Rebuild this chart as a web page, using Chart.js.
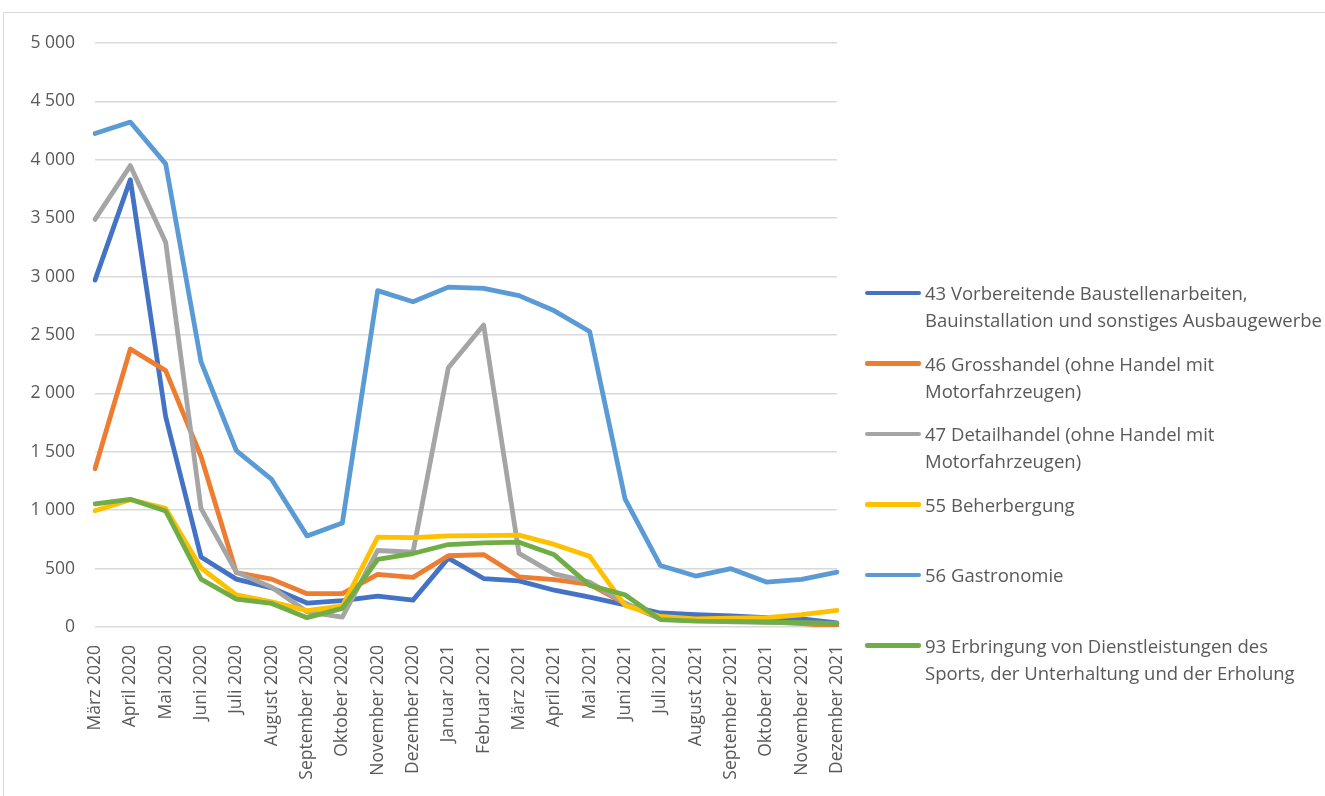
<!DOCTYPE html>
<html>
<head>
<meta charset="utf-8">
<script src="https://cdn.jsdelivr.net/npm/chart.js@4/dist/chart.umd.min.js"></script>
<style>
  html, body { margin: 0; padding: 0; background: #fff; }
  body { width: 1325px; height: 796px; position: relative; overflow: hidden; font-family: 'Open Sans', sans-serif; }
  .frame { position: absolute; left: 3px; top: 12px; width: 1340px; height: 800px; border: 1px solid #D9D9D9; }
  #chart { position: absolute; left: 0; top: 0; }
  #legend { position: absolute; left: 865px; top: 279px; }
  .leg-item { display: flex; align-items: flex-start; height: 70.6px; }
  .leg-line { width: 56px; height: 4.5px; border-radius: 2px; margin-top: 11.5px; margin-right: 4px; flex: none; }
  .leg-text { color: #595959; font-size: 18.5px; line-height: 27px; white-space: nowrap; }
</style>
</head>
<body>
<div class="frame"></div>
<canvas id="chart" width="1325" height="796"></canvas>
<div id="legend"></div>
<script>
const months = ['März 2020', 'April 2020', 'Mai 2020', 'Juni 2020', 'Juli 2020', 'August 2020',
  'September 2020', 'Oktober 2020', 'November 2020', 'Dezember 2020', 'Januar 2021', 'Februar 2021',
  'März 2021', 'April 2021', 'Mai 2021', 'Juni 2021', 'Juli 2021', 'August 2021', 'September 2021',
  'Oktober 2021', 'November 2021', 'Dezember 2021'];

const bau43      = [2970, 3830, 1800, 600, 410, 335, 205, 225, 265, 230, 590, 415, 395, 315, 255, 190, 120, 105, 95, 80, 70, 35];
const gross46    = [1355, 2380, 2195, 1460, 465, 410, 285, 285, 450, 425, 610, 620, 430, 405, 365, 200, 70, 60, 50, 45, 30, 5];
const detail47   = [3490, 3950, 3295, 1015, 470, 340, 130, 85, 655, 640, 2220, 2585, 630, 455, 385, 205, 70, 55, 45, 40, 35, 30];
const beherb55   = [995, 1090, 1015, 505, 275, 215, 140, 180, 770, 765, 780, 782, 786, 707, 605, 185, 90, 70, 75, 80, 105, 142];
const gastro56   = [4225, 4323, 3965, 2272, 1510, 1263, 780, 890, 2880, 2785, 2910, 2900, 2837, 2707, 2530, 1097, 527, 436, 499, 385, 407, 470];
const sport93    = [1055, 1093, 993, 410, 239, 202, 80, 159, 578, 629, 706, 721, 726, 618, 356, 276, 63, 51, 48, 43, 37, 28];

const seriesLabels = [
  ['43 Vorbereitende Baustellenarbeiten,', 'Bauinstallation und sonstiges Ausbaugewerbe'],
  ['46 Grosshandel (ohne Handel mit', 'Motorfahrzeugen)'],
  ['47 Detailhandel (ohne Handel mit', 'Motorfahrzeugen)'],
  ['55 Beherbergung'],
  ['56 Gastronomie'],
  ['93 Erbringung von Dienstleistungen des', 'Sports, der Unterhaltung und der Erholung']
];
const seriesData = [bau43, gross46, detail47, beherb55, gastro56, sport93];
const colors = ['#4472C4', '#ED7D31', '#A5A5A5', '#FFC000', '#5B9BD5', '#70AD47'];

const yTicks = [0, 500, 1000, 1500, 2000, 2500, 3000, 3500, 4000, 4500, 5000];

function fmtNum(v) {
  return String(v).replace(/\B(?=(\d{3})+(?!\d))/g, ' ');
}

const chart = new Chart(document.getElementById('chart'), {
  type: 'line',
  data: {
    labels: months,
    datasets: seriesData.map((d, i) => ({
      label: seriesLabels[i].join(' '),
      data: d,
      borderColor: colors[i],
      backgroundColor: colors[i],
      borderWidth: 4.8,
      pointRadius: 0,
      tension: 0,
      borderJoinStyle: 'round',
      borderCapStyle: 'round',
      order: seriesData.length - i   // later series on top, like Excel
    }))
  },
  options: {
    responsive: false,
    animation: false,
    devicePixelRatio: 1,
    layout: { padding: { left: 0, top: 43, right: 488, bottom: 0 } },
    plugins: { legend: { display: false }, tooltip: { enabled: false } },
    scales: {
      x: {
        offset: false,
        grid: { display: false },
        border: { display: false },
        ticks: { autoSkip: false, minRotation: 90, maxRotation: 90, padding: 10, color: '#595959',
                 font: { family: "'Open Sans', sans-serif", size: 17.5 } },
        afterFit: s => { s.height = 169; }
      },
      y: {
        min: yTicks[0],
        max: yTicks[yTicks.length - 1],
        afterBuildTicks: s => { s.ticks = yTicks.map(v => ({ value: v })); },
        grid: { color: '#D9D9D9', lineWidth: 1.5, drawTicks: false },
        border: { display: false },
        ticks: { padding: 20, color: '#595959', font: { family: "'Open Sans', sans-serif", size: 17.5 },
                 callback: v => fmtNum(v) },
        afterFit: s => { s.width = 95; }
      }
    }
  }
});

document.getElementById('legend').innerHTML = chart.data.datasets.map((ds, i) => `
  <div class="leg-item">
    <div class="leg-line" style="background:${ds.borderColor}"></div>
    <div class="leg-text">${seriesLabels[i].join('<br>')}</div>
  </div>`).join('');
</script>
</body>
</html>
